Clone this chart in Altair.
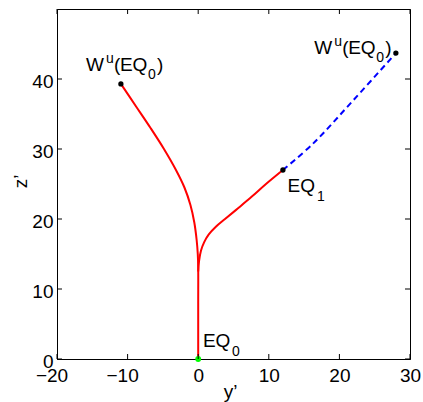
import altair as alt
import pandas as pd

# ---- data ----
left_y = [0, 0, 0, -0.06, -0.22, -0.55, -1.1, -1.95, -3.15, -4.85, -6.75, -8.75, -10.95]
left_z = [0, 8, 13, 15, 17, 19.5, 22, 24.5, 27, 30, 33, 36, 39.3]

right_y = [0, 0.12, 0.4, 0.85, 1.5, 2.5, 3.8, 5.6, 7.6, 9.6, 12.0]
right_z = [12.5, 14, 15.5, 16.7, 17.8, 18.9, 20, 21.5, 23.2, 25, 27.0]

blue_y = [12.0, 16.3, 22.0, 28.0]
blue_z = [27.0, 30.8, 37.0, 43.7]

end_y = [-10.95, 28.0, 12.0]
end_z = [39.3, 43.7, 27.0]

eq0_y = [0.0]
eq0_z = [0.0]

x_ticks = [-20, -10, 0, 10, 20, 30]
z_ticks = [0, 10, 20, 30, 40]

# label pieces: (text, dx, dy, size)
wu_pieces = [("W", 0, 0, 19), ("u", 20, -8, 14), ("(", 28, 0, 19),
             ("EQ", 34, 0, 19), ("0", 62, 8, 14), (")", 71, 0, 19)]

W, H = 353, 350
FONT = "Liberation Sans"

xs = alt.Scale(domain=[-20, 30], nice=False, zero=False)
ys = alt.Scale(domain=[0, 50], nice=False, zero=False)

x_axis = alt.Axis(
    values=x_ticks, ticks=False, grid=False, domainColor="black",
    labelFont=FONT, labelFontSize=19, labelColor="black", labelPadding=7,
    labelFlush=False, labelOverlap=False,
    labelOffset={"condition": {"test": "datum.value < 0", "value": -5.5}, "value": 0},
    title="y’", titleFont=FONT, titleFontSize=19, titleFontWeight="normal",
    titleColor="black", titleX=173, titleY=38, titleBaseline="alphabetic",
    titleAlign="center",
)
y_axis = alt.Axis(
    values=z_ticks, ticks=False, grid=False, domainColor="black",
    labelFont=FONT, labelFontSize=19, labelColor="black", labelPadding=4,
    labelFlush=False, labelOverlap=False, labelOffset=2,
    title="z’", titleFont=FONT, titleFontSize=19, titleFontWeight="normal",
    titleColor="black", titleX=-31, titleY=172, titleBaseline="alphabetic",
    titleAlign="center", titleAngle=270,
)


def X(f="y"):
    return alt.X(f"{f}:Q", scale=xs, axis=x_axis)


def Y(f="z"):
    return alt.Y(f"{f}:Q", scale=ys, axis=y_axis)


def line(yv, zv, color, dash=None):
    df = pd.DataFrame({"y": yv, "z": zv, "i": list(range(len(yv)))})
    kw = dict(color=color, strokeWidth=2, interpolate="catmull-rom")
    if dash:
        kw["strokeDash"] = dash
    return alt.Chart(df).mark_line(**kw).encode(x=X(), y=Y(), order="i:Q")


layers = []
layers.append(line(left_y, left_z, "#ff0000"))
layers.append(line(right_y, right_z, "#ff0000"))
layers.append(line(blue_y, blue_z, "#0000ff", dash=[6, 4]))

ends = pd.DataFrame({"y": end_y, "z": end_z})
layers.append(alt.Chart(ends).mark_circle(size=28, color="black", opacity=1).encode(x=X(), y=Y()))
eq0 = pd.DataFrame({"y": eq0_y, "z": eq0_z})
layers.append(alt.Chart(eq0).mark_circle(size=34, color="#00ff00", opacity=1).encode(x=X(), y=Y()))


def piece(y, z, text, dx, dy, size):
    df = pd.DataFrame({"y": [y], "z": [z], "t": [text]})
    return alt.Chart(df).mark_text(
        align="left", baseline="alphabetic", dx=dx, dy=dy, fontSize=size,
        font=FONT, color="black"
    ).encode(x=X(), y=Y(), text="t:N")


# W^u(EQ_0) labels
for idx, (bdx, bdy) in [(0, (-35, -13)), (1, (-81.7, 1))]:
    for t, dx, dy, s in wu_pieces:
        layers.append(piece(end_y[idx], end_z[idx], t, bdx + dx, bdy + dy, s))

# EQ_1
layers.append(piece(end_y[2], end_z[2], "EQ", 4.6, 22.3, 19))
layers.append(piece(end_y[2], end_z[2], "1", 34, 31, 14))
# EQ_0
layers.append(piece(eq0_y[0], eq0_z[0], "EQ", 4.7, -11.7, 19))
layers.append(piece(eq0_y[0], eq0_z[0], "0", 33.7, -3, 14))

# inward ticks on all four sides
xt = pd.DataFrame({"y": x_ticks})
zt = pd.DataFrame({"z": z_ticks})
TL = 5
layers.append(alt.Chart(xt).mark_rule(color="black", strokeWidth=1).encode(
    x=X(), y=alt.value(H), y2=alt.value(H - TL)))
layers.append(alt.Chart(xt).mark_rule(color="black", strokeWidth=1).encode(
    x=X(), y=alt.value(0), y2=alt.value(TL)))
layers.append(alt.Chart(zt).mark_rule(color="black", strokeWidth=1).encode(
    y=Y(), x=alt.value(0), x2=alt.value(TL)))
layers.append(alt.Chart(zt).mark_rule(color="black", strokeWidth=1).encode(
    y=Y(), x=alt.value(W), x2=alt.value(W - TL)))

chart = alt.layer(*layers).properties(
    width=W, height=H,
    autosize=alt.AutoSizeParams(type="none"),
    padding={"left": 57, "top": 9, "right": 13, "bottom": 43},
    background="white",
).configure_view(stroke="black", strokeWidth=1)

chart.save("out.html", embed_options={"renderer": "svg", "actions": False})
